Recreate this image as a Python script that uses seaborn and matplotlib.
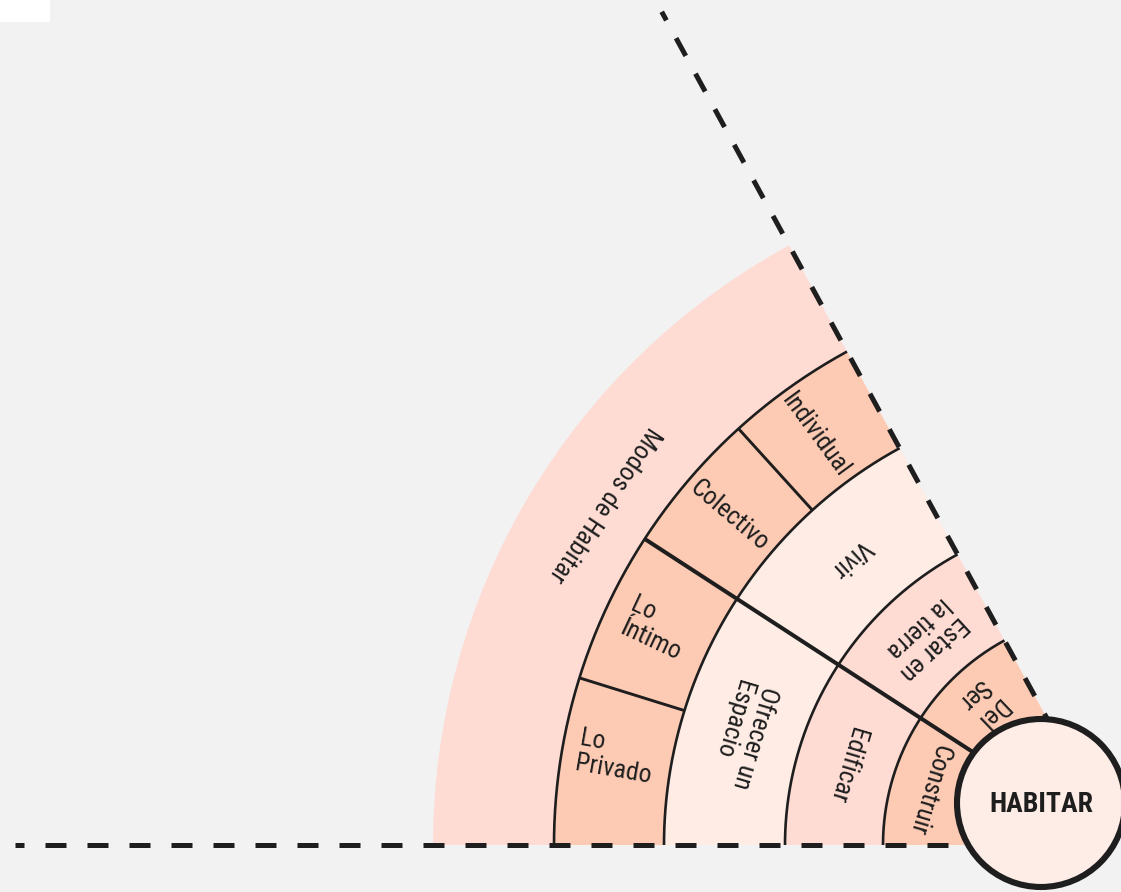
import numpy as np
import matplotlib.pyplot as plt
import seaborn as sns
from matplotlib.patches import Circle, Rectangle

# Data
center_label = "HABITAR"
ring_labels = [
    ["Construir", "Del\nSer"],
    ["Edificar", "Estar en\nla tierra"],
    ["Ofrecer un\nEspacio", "Vivir"],
    ["Lo\nPrivado", "Lo\nÍntimo", "Colectivo", "Individual"],
    ["Modos de Habitar"],
]
# angular size of every segment (degrees)
ring_spans = [
    [33.0, 28.4],
    [33.0, 28.4],
    [33.0, 28.4],
    [17.3, 15.7, 14.8, 13.6],
    [61.4],
]

# Layout (pixels / degrees)
W, H = 1121, 892
fan_x, fan_y = 1116, 845          # apex of the fan
ring_edges = [120, 233, 331, 452, 562, 683]
label_r = [195, 281, 390, 508, 615]
label_shift = [[0, 0.8], [0, 0], [0, 0], [-1.3, 0, 0, 0.9], [-3]]
R = 1150
start_angle = 180.0

ink = "#1e1e1e"
bg = "#f2f2f2"
ring_colors = ["#fdcbb4", "#fedcd4", "#feece5", "#fdcbb4", "#fedcd4"]
radial_text = [False, False, False, True, False]

sns.set_theme(style="white")
plt.rcParams["font.family"] = ["Roboto Condensed", "DejaVu Sans"]

fig = plt.figure(figsize=(W / 100, H / 100), dpi=100)
fig.patch.set_facecolor(bg)

ax = fig.add_axes([(fan_x - R) / W, (H - fan_y - R) / H, 2 * R / W, 2 * R / H],
                  projection="polar")
ax.set_ylim(0, R)
ax.set_axis_off()

total = sum(ring_spans[0])
major = set(np.round(start_angle - np.cumsum(ring_spans[0])[:-1], 2))

for i, (labels, spans) in enumerate(zip(ring_labels, ring_spans)):
    r_in, r_out = ring_edges[i], ring_edges[i + 1]
    ends = start_angle - np.cumsum(spans)
    starts = ends + np.array(spans)
    mids = (starts + ends) / 2
    ax.bar(np.deg2rad(mids), r_out - r_in, width=np.deg2rad(spans), bottom=r_in,
           color=ring_colors[i], linewidth=0, align="center")

    # radial separators
    if i < 4:
        for b in ends[:-1]:
            lw = 2.9 if np.round(b, 2) in major else 2.1
            ax.plot([np.deg2rad(b)] * 2, [r_in, r_out], color=ink, lw=lw,
                    solid_capstyle="butt")

    for lab, m, s in zip(labels, mids, label_shift[i]):
        m = m + s
        rot = m - 180 if radial_text[i] else m + 90
        ax.text(np.deg2rad(m), label_r[i], lab, rotation=rot, rotation_mode="anchor",
                ha="center", va="center", multialignment="left",
                fontsize=18.5, color=ink, linespacing=1.1)

# ring boundaries
th = np.deg2rad(np.linspace(start_angle - total, start_angle, 300))
for r in ring_edges[1:5]:
    ax.plot(th, np.full_like(th, r), color=ink, lw=1.9, solid_capstyle="butt")

# dashed edges of the fan
ax.plot([np.deg2rad(start_angle)] * 2, [168, 1101], color=ink, lw=3.6,
        linestyle=(0, (4.2, 4.2)), dash_capstyle="butt")
ax.plot([np.deg2rad(start_angle - total)] * 2, [949, 139.5], color=ink, lw=3.6,
        linestyle=(2.1, (4.05, 4.05)), dash_capstyle="butt")

# centre circle
ax2 = fig.add_axes([0, 0, 1, 1])
ax2.set_xlim(0, W)
ax2.set_ylim(H, 0)
ax2.set_axis_off()
ax2.add_patch(Rectangle((0, 0), 50, 22, color="white", lw=0))
ax2.add_patch(Circle((1041, 803), 84, facecolor="#feece6", edgecolor=ink, lw=4.4))
ax2.text(1041, 805, center_label, ha="center", va="center", fontsize=20,
         fontweight="bold", color=ink)

fig.savefig("out.png", dpi=100, facecolor=bg)
